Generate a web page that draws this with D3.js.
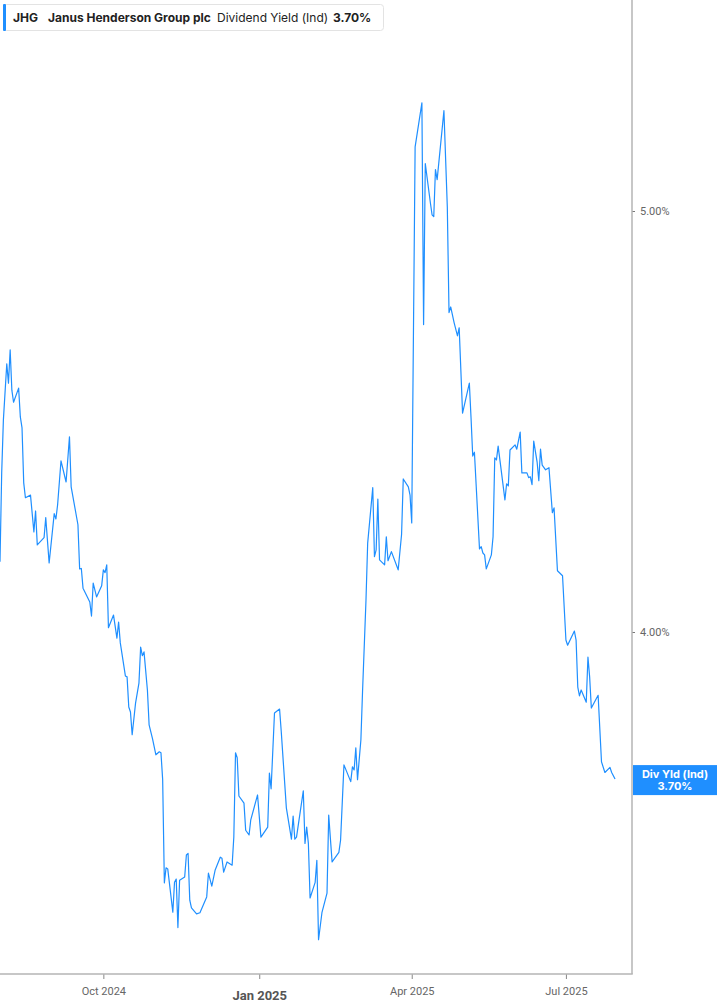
<!DOCTYPE html>
<html>
<head>
<meta charset="utf-8">
<script src="https://cdn.jsdelivr.net/npm/d3@7/dist/d3.min.js"></script>
<style>
  html, body { margin: 0; padding: 0; background: #fff; }
  svg { display: block; }
</style>
</head>
<body>
<div id="canvas"></div>
<script>
// dividend yield (Ind), JHG
const dates = [
  "2024-08-01","2024-08-02","2024-08-03","2024-08-05","2024-08-06","2024-08-07","2024-08-08","2024-08-09",
  "2024-08-12","2024-08-13","2024-08-14","2024-08-15","2024-08-16","2024-08-19","2024-08-21","2024-08-22",
  "2024-08-23","2024-08-27","2024-08-28","2024-08-30",
  "2024-09-02","2024-09-03","2024-09-04","2024-09-06","2024-09-09","2024-09-11","2024-09-12","2024-09-16",
  "2024-09-17","2024-09-18","2024-09-19","2024-09-23","2024-09-24","2024-09-25","2024-09-27","2024-09-30",
  "2024-10-01","2024-10-02","2024-10-03","2024-10-04","2024-10-07","2024-10-09","2024-10-10","2024-10-11",
  "2024-10-14","2024-10-15","2024-10-16","2024-10-17","2024-10-18","2024-10-20","2024-10-22","2024-10-23",
  "2024-10-24","2024-10-25","2024-10-27","2024-10-28","2024-10-30",
  "2024-11-01","2024-11-03","2024-11-04","2024-11-05","2024-11-06","2024-11-07","2024-11-08","2024-11-11",
  "2024-11-12","2024-11-13","2024-11-14","2024-11-15","2024-11-18","2024-11-19","2024-11-20","2024-11-21",
  "2024-11-22","2024-11-25","2024-11-27",
  "2024-12-01","2024-12-02","2024-12-04","2024-12-06","2024-12-09","2024-12-10","2024-12-11","2024-12-13",
  "2024-12-16","2024-12-17","2024-12-18","2024-12-19","2024-12-20","2024-12-23","2024-12-24","2024-12-26",
  "2024-12-27","2024-12-31",
  "2025-01-02","2025-01-06","2025-01-07","2025-01-08","2025-01-10","2025-01-13","2025-01-14","2025-01-17",
  "2025-01-20","2025-01-21","2025-01-22","2025-01-23","2025-01-27","2025-01-28","2025-01-29","2025-01-30",
  "2025-01-31",
  "2025-02-03","2025-02-04","2025-02-05","2025-02-07","2025-02-10","2025-02-11","2025-02-13","2025-02-17",
  "2025-02-18","2025-02-20","2025-02-24","2025-02-25","2025-02-26","2025-02-27","2025-02-28",
  "2025-03-02","2025-03-03","2025-03-05","2025-03-06","2025-03-09","2025-03-10","2025-03-11","2025-03-12",
  "2025-03-13","2025-03-16","2025-03-17","2025-03-18","2025-03-20","2025-03-24","2025-03-26","2025-03-27",
  "2025-03-30","2025-03-31",
  "2025-04-01","2025-04-03","2025-04-07","2025-04-08","2025-04-09","2025-04-12","2025-04-13","2025-04-14",
  "2025-04-15","2025-04-16","2025-04-20","2025-04-22","2025-04-23","2025-04-24","2025-04-26","2025-04-28",
  "2025-04-29",
  "2025-05-01","2025-05-05","2025-05-06","2025-05-07","2025-05-08","2025-05-11","2025-05-12","2025-05-13",
  "2025-05-14","2025-05-15","2025-05-18","2025-05-19","2025-05-20","2025-05-21","2025-05-22","2025-05-24",
  "2025-05-26","2025-05-27","2025-05-28","2025-05-29",
  "2025-06-01","2025-06-02","2025-06-04","2025-06-05","2025-06-08","2025-06-09","2025-06-10","2025-06-11",
  "2025-06-12","2025-06-14","2025-06-15","2025-06-16","2025-06-17","2025-06-19","2025-06-21","2025-06-23",
  "2025-06-24","2025-06-26","2025-06-29",
  "2025-07-01","2025-07-02","2025-07-06","2025-07-07","2025-07-08","2025-07-09","2025-07-10","2025-07-13",
  "2025-07-14","2025-07-15","2025-07-16","2025-07-20","2025-07-22","2025-07-24","2025-07-27","2025-07-28",
  "2025-07-30"
];

const yields = [
  4.152,4.352,4.476,4.611,4.564,4.645,4.547,4.518,
  4.552,4.483,4.457,4.329,4.295,4.301,4.218,4.265,
  4.189,4.205,4.250,4.149,
  4.259,4.247,4.279,4.380,4.331,4.436,4.320,4.234,
  4.136,4.137,4.094,4.064,4.034,4.105,4.075,4.099,
  4.134,4.128,4.145,4.009,4.036,3.987,4.021,3.977,
  3.908,3.906,3.844,3.834,3.788,3.852,3.893,3.968,
  3.950,3.958,3.879,3.808,3.780,
  3.748,3.754,3.752,3.699,3.502,3.530,3.528,3.448,
  3.503,3.509,3.420,3.507,3.513,3.554,3.557,3.470,
  3.456,3.445,3.447,
  3.476,3.520,3.496,3.526,3.550,3.548,3.522,3.541,
  3.535,3.588,3.752,3.742,3.667,3.653,3.601,3.592,
  3.621,3.669,
  3.588,3.607,3.712,3.681,3.832,3.840,3.794,3.644,
  3.584,3.628,3.584,3.588,3.677,3.576,3.607,3.576,
  3.474,
  3.503,3.544,3.398,3.447,3.483,3.630,3.541,3.559,
  3.582,3.728,3.695,3.724,3.718,3.762,3.699,
  3.778,3.879,4.068,4.193,4.318,4.163,4.178,4.292,
  4.156,4.145,4.207,4.154,4.174,4.134,4.212,4.338,
  4.320,4.301,
  4.238,5.173,5.295,4.708,5.127,5.022,4.990,4.985,
  5.111,5.084,5.273,5.011,4.738,4.752,4.713,4.680,
  4.700,
  4.492,4.564,4.481,4.391,4.400,4.180,4.185,4.171,
  4.167,4.136,4.167,4.207,4.387,4.382,4.414,4.352,
  4.290,4.327,4.322,4.405,
  4.417,4.407,4.447,4.352,4.352,4.341,4.343,4.325,
  4.426,4.377,4.334,4.407,4.370,4.359,4.364,4.261,
  4.272,4.132,4.121,
  3.983,3.972,4.002,3.983,3.885,3.867,3.879,3.854,
  3.947,3.906,3.842,3.868,3.734,3.713,3.723,3.713,
  3.700
];

const yTicks = [4, 5];
const xTickDates = ["2024-10-01", "2025-01-01", "2025-04-01", "2025-07-01"];
const xTickLabels = ["Oct 2024", "Jan 2025", "Apr 2025", "Jul 2025"];
const lastYield = 3.70;

const W = 717, H = 1005;
const plotRight = 632, plotBottom = 974;
const lineColor = "#1f8fff";
const parse = d3.timeParse("%Y-%m-%d");

const data = dates.map((d, i) => ({ date: parse(d), value: yields[i] }));

const svg = d3.select("#canvas").append("svg")
    .attr("width", W)
    .attr("height", H);

const x = d3.scaleTime()
    .domain([parse("2024-08-01"), parse("2025-08-09")])
    .range([0, plotRight]);

// log scale, 4% and 5% gridlines
const y = d3.scaleLog()
    .domain([4, 5])
    .range([632, 211]);

svg.append("clipPath").attr("id", "clip")
  .append("rect")
    .attr("x", 0).attr("y", 0)
    .attr("width", plotRight).attr("height", plotBottom);

const line = d3.line()
    .x(d => x(d.date))
    .y(d => y(d.value));

svg.append("path")
    .datum(data)
    .attr("clip-path", "url(#clip)")
    .attr("fill", "none")
    .attr("stroke", lineColor)
    .attr("stroke-width", 1.2)
    .attr("stroke-linejoin", "round")
    .attr("d", line);

// right axis
const yAxis = svg.append("g")
    .attr("transform", `translate(${plotRight}, 0)`)
    .call(d3.axisRight(y).tickValues(yTicks).tickSize(3).tickPadding(5)
        .tickFormat(d => d3.format(".2f")(d) + "%"));
yAxis.select(".domain").remove();
yAxis.selectAll("line").attr("stroke", "#777");
yAxis.selectAll("text")
    .attr("fill", "#666")
    .style("font-family", "Roboto, 'Noto Sans', sans-serif")
    .style("font-size", "11px");

// bottom axis
const xAxis = svg.append("g")
    .attr("transform", `translate(0, ${plotBottom})`)
    .call(d3.axisBottom(x).tickValues(xTickDates.map(parse)).tickSize(5).tickPadding(8)
        .tickFormat((d, i) => xTickLabels[i]));
xAxis.select(".domain").remove();
xAxis.selectAll("line").attr("stroke", "#888");
xAxis.selectAll("text")
    .attr("fill", "#666")
    .style("font-family", "Roboto, 'Noto Sans', sans-serif")
    .style("font-size", "11px");
xAxis.selectAll("text")
    .filter((d, i) => xTickLabels[i] === "Jan 2025")
    .attr("fill", "#555")
    .attr("dy", "1.0em")
    .style("font-weight", "bold")
    .style("font-size", "13px");

// frame lines
svg.append("line")
    .attr("x1", 0).attr("x2", plotRight + 0.75)
    .attr("y1", plotBottom).attr("y2", plotBottom)
    .attr("stroke", "#b5b5b5").attr("stroke-width", 1.5);
svg.append("line")
    .attr("x1", plotRight).attr("x2", plotRight)
    .attr("y1", 0).attr("y2", plotBottom)
    .attr("stroke", "#b5b5b5").attr("stroke-width", 1.5);

// last value tag
const tag = svg.append("g")
    .attr("transform", `translate(${plotRight + 1}, ${y(lastYield)})`);
tag.append("rect")
    .attr("x", 0).attr("y", -14)
    .attr("width", W - plotRight).attr("height", 30)
    .attr("fill", lineColor);
tag.append("text")
    .attr("x", 42).attr("y", -1)
    .attr("text-anchor", "middle")
    .attr("fill", "#fff")
    .style("font-family", "Inter, 'Noto Sans', sans-serif")
    .style("font-weight", "bold")
    .style("font-size", "11px")
    .text("Div Yld (Ind)");
tag.append("text")
    .attr("x", 42).attr("y", 11)
    .attr("text-anchor", "middle")
    .attr("fill", "#fff")
    .style("font-family", "Inter, 'Noto Sans', sans-serif")
    .style("font-weight", "bold")
    .style("font-size", "11px")
    .text(d3.format(".2f")(lastYield) + "%");

// legend
const legend = svg.append("g");
legend.append("rect")
    .attr("x", 3.5).attr("y", 4.5)
    .attr("width", 380).attr("height", 26)
    .attr("rx", 3)
    .attr("fill", "#fff")
    .attr("stroke", "#e3e3e3");
legend.append("rect")
    .attr("x", 3).attr("y", 4)
    .attr("width", 3).attr("height", 27)
    .attr("rx", 1)
    .attr("fill", lineColor);

const legendItems = [
    { text: "JHG", x: 13, bold: true },
    { text: "Janus Henderson Group plc", x: 48, bold: true },
    { text: "Dividend Yield (Ind)", x: 217, bold: false },
    { text: d3.format(".2f")(lastYield) + "%", x: 333, bold: true }
];
legend.selectAll("text.item")
    .data(legendItems)
    .enter().append("text")
    .attr("class", "item")
    .attr("x", d => d.x)
    .attr("y", 22)
    .attr("fill", "#222")
    .style("font-family", "Inter, 'Noto Sans', sans-serif")
    .style("font-size", "12px")
    .style("font-weight", d => d.bold ? "bold" : "normal")
    .text(d => d.text);
</script>
</body>
</html>
